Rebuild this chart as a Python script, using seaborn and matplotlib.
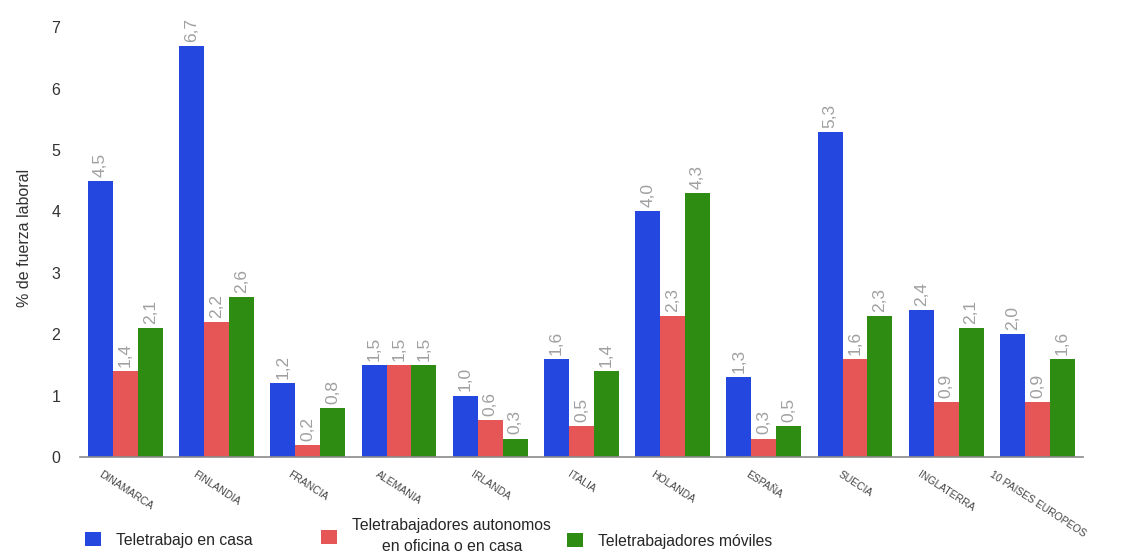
import matplotlib
matplotlib.use("Agg")
import matplotlib.pyplot as plt
from matplotlib.patches import Patch
import seaborn as sns
import pandas as pd

paises = ["DINAMARCA", "FINLANDIA", "FRANCIA", "ALEMANIA", "IRLANDA", "ITALIA",
          "HOLANDA", "ESPAÑA", "SUECIA", "INGLATERRA", "10 PAISES EUROPEOS"]
series = ["Teletrabajo en casa",
          "Teletrabajadores autonomos\nen oficina o en casa",
          "Teletrabajadores móviles"]
en_casa = [4.5, 6.7, 1.2, 1.5, 1.0, 1.6, 4.0, 1.3, 5.3, 2.4, 2.0]
autonomos = [1.4, 2.2, 0.2, 1.5, 0.6, 0.5, 2.3, 0.3, 1.6, 0.9, 0.9]
moviles = [2.1, 2.6, 0.8, 1.5, 0.3, 1.4, 4.3, 0.5, 2.3, 2.1, 1.6]
colores = ["#2447e0", "#e65656", "#2f8c12"]

df = pd.DataFrame({
    "pais": paises * 3,
    "serie": [series[0]] * len(paises) + [series[1]] * len(paises) + [series[2]] * len(paises),
    "valor": en_casa + autonomos + moviles,
})

sns.set_theme(style="white")
plt.rcParams["font.family"] = ["Liberation Sans", "DejaVu Sans"]

fig = plt.figure(figsize=(11.24, 5.59), dpi=100)
ax = fig.add_axes([0.071, 0.1825, 0.8925, 0.785])

sns.barplot(data=df, x="pais", y="valor", hue="serie", order=paises,
            hue_order=series, palette=colores, saturation=1, width=0.82,
            linewidth=0, ax=ax, legend=False)

for cont in ax.containers:
    etiquetas = [f"{b.get_height():.1f}".replace(".", ",") for b in cont]
    ax.bar_label(cont, labels=etiquetas, rotation=90, padding=3,
                 color="#a0a0a0", fontsize=12.5)

ax.set_xlim(-0.5, len(paises) - 0.5)
ax.set_ylim(0, 7.15)
ax.set_yticks(range(0, 8))
ax.tick_params(axis="y", length=0, labelsize=11.5, labelcolor="#333333", pad=14)
ax.tick_params(axis="x", length=0, labelsize=7.5, labelcolor="#444444", pad=9)
ax.set_xticks(range(len(paises)))
ax.set_xticklabels(paises, rotation=-33, ha="center", va="top")
ax.set_xlabel("")
ax.set_ylabel("% de fuerza laboral", fontsize=11.5, color="#333333", labelpad=14)

for s in ["top", "right", "left"]:
    ax.spines[s].set_visible(False)
ax.spines["bottom"].set_color("#8a8a8a")
ax.spines["bottom"].set_linewidth(1.2)

# one legend entry per series, each placed along the bottom row
pos_x = [85, 321, 567]
pos_y = [540, 536, 541]
for color, nombre, x, y in zip(colores, series, pos_x, pos_y):
    leg = fig.legend([Patch(facecolor=color, edgecolor="none")], [nombre],
                     loc="center left", bbox_to_anchor=(x / 1124, 1 - y / 559),
                     frameon=False, fontsize=11.3, handlelength=1.0,
                     handleheight=1.0, handletextpad=1.0, borderpad=0,
                     borderaxespad=0)
    for t in leg.get_texts():
        t.set_multialignment("center")
        t.set_linespacing(1.5)

fig.savefig("out.png", dpi=100)
